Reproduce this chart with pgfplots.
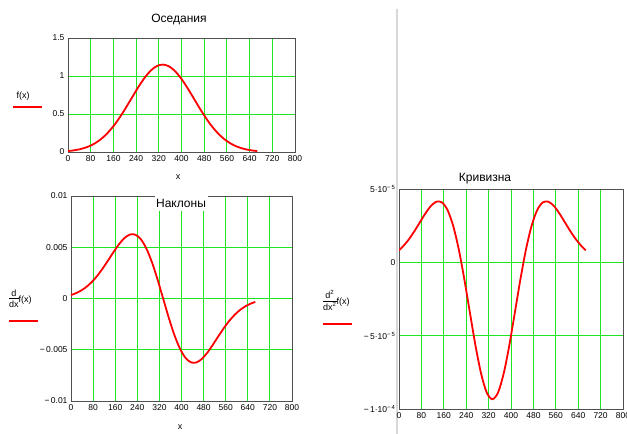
\documentclass[border=0pt]{standalone}
\usepackage{pgfplots}
\usepackage{pgfplotstable}
\pgfplotsset{compat=1.18}
\usepackage{fontspec}
\setmainfont{Liberation Sans}
\definecolor{grd}{RGB}{30,230,30}
\definecolor{frm}{RGB}{80,80,80}
\definecolor{pageline}{RGB}{216,216,216}

\pgfplotstableread{
x f d c
0 0.0126 0.000341 8.21e-6
13.5 0.0180 0.000468 1.070e-5
33.5 0.0298 0.000726 1.526e-5
53.5 0.0477 0.001085 2.078e-5
73.5 0.0740 0.001562 2.695e-5
93.5 0.1111 0.002163 3.312e-5
113.5 0.1613 0.002881 3.834e-5
133.5 0.2268 0.003682 4.136e-5
153.5 0.3088 0.004511 4.084e-5
173.5 0.4069 0.005284 3.559e-5
193.5 0.5191 0.005898 2.489e-5
213.5 0.6411 0.006244 8.78e-6
233.5 0.7664 0.006220 -1.172e-5
253.5 0.8870 0.005759 -3.459e-5
273.5 0.9937 0.004839 -5.709e-5
293.5 1.0777 0.003499 -7.611e-5
313.5 1.1315 0.001837 -8.885e-5
333.5 1.1500 0 -9.334e-5
353.5 1.1315 -0.001837 -8.885e-5
373.5 1.0777 -0.003499 -7.611e-5
393.5 0.9937 -0.004839 -5.709e-5
413.5 0.8870 -0.005759 -3.459e-5
433.5 0.7664 -0.006220 -1.172e-5
453.5 0.6411 -0.006244 8.78e-6
473.5 0.5191 -0.005898 2.489e-5
493.5 0.4069 -0.005284 3.559e-5
513.5 0.3088 -0.004511 4.084e-5
533.5 0.2268 -0.003682 4.136e-5
553.5 0.1613 -0.002881 3.834e-5
573.5 0.1111 -0.002163 3.312e-5
593.5 0.0740 -0.001562 2.695e-5
613.5 0.0477 -0.001085 2.078e-5
633.5 0.0298 -0.000726 1.526e-5
653.5 0.0180 -0.000468 1.070e-5
667 0.0126 -0.000341 8.21e-6
}\data

\pgfplotsset{
 mc/.style={
  scale only axis, xmin=0, xmax=800,
  xtick={0,80,...,800},
  xticklabels={0,80,160,240,320,400,480,560,640,720,800},
  scaled x ticks=false, scaled y ticks=false,
  grid=major, grid style={draw=grd, line width=0.9pt},
  axis line style={draw=frm, line width=0.9pt},
  major tick length=0pt,
  tick label style={font=\fontsize{8.5}{10}\selectfont, text=black},
 },
 crv/.style={red, line width=1.8pt, smooth, mark=none}
}

\begin{document}
\begin{tikzpicture}
\path[use as bounding box] (0,0) rectangle (627pt,434pt);
\clip (0,0) rectangle (627pt,434pt);
\fill[white] (0,0) rectangle (627pt,434pt);
\draw[pageline, line width=1.6pt] (397pt,0) -- (397pt,425pt);

% ---- Top: Оседания
\begin{axis}[mc, at={(68pt,282pt)}, anchor=south west, width=227pt, height=114pt,
  ymin=0, ymax=1.5, ytick={0,0.5,1,1.5}, yticklabels={0,0.5,1,1.5}]
\addplot[crv] table[x=x,y=f]{\data};
\end{axis}
\node[font=\fontsize{12}{14}\selectfont] at (179pt,414pt) {Оседания};
\node[font=\fontsize{9}{10}\selectfont] at (178pt,257pt) {x};
\node[font=\fontsize{9}{10}\selectfont] at (23pt,338pt) {f(x)};
\draw[red, line width=1.8pt] (13pt,327pt) -- (42pt,327pt);

% ---- Bottom-left: Наклоны
\begin{axis}[mc, at={(71pt,33pt)}, anchor=south west, width=221pt, height=205pt,
  ymin=-0.01, ymax=0.01, ytick={-0.01,-0.005,0,0.005,0.01},
  yticklabels={−\,0.01,−\,0.005,0,0.005,0.01}]
\addplot[crv] table[x=x,y=d]{\data};
\end{axis}
\fill[white] (155pt,223pt) rectangle (208pt,237.6pt);
\node[font=\fontsize{12}{14}\selectfont] at (181pt,231pt) {Наклоны};
\node[font=\fontsize{9}{10}\selectfont] at (180pt,7pt) {x};
\node[anchor=west, inner sep=0pt, font=\fontsize{9}{10}\selectfont] at (9pt,134pt)
  {\begin{tabular}{@{}c@{}}d\\[-1pt]\hline\rule{0pt}{9pt}dx\end{tabular}f(x)};
\draw[red, line width=1.8pt] (9pt,113pt) -- (38pt,113pt);

% ---- Right: Кривизна
\begin{axis}[mc, at={(399pt,25pt)}, anchor=south west, width=224pt, height=220pt,
  ymin=-1e-4, ymax=5e-5, ytick={-1e-4,-5e-5,0,5e-5},
  yticklabels={−\,1·10\textsuperscript{−\,4},−\,5·10\textsuperscript{−\,5},0,5·10\textsuperscript{−\,5}}]
\addplot[crv] table[x=x,y=c]{\data};
\end{axis}
\node[font=\fontsize{12}{14}\selectfont] at (485pt,255pt) {Кривизна};
\node[font=\fontsize{9}{10}\selectfont] at (505pt,-3pt) {x};
\node[anchor=west, inner sep=0pt, font=\fontsize{9}{10}\selectfont] at (323pt,132pt)
  {\begin{tabular}{@{}c@{}}d\textsuperscript{2}\\[-1pt]\hline\rule{0pt}{9pt}dx\textsuperscript{2}\end{tabular}f(x)};
\draw[red, line width=1.8pt] (323pt,110pt) -- (352pt,110pt);
\end{tikzpicture}
\end{document}
